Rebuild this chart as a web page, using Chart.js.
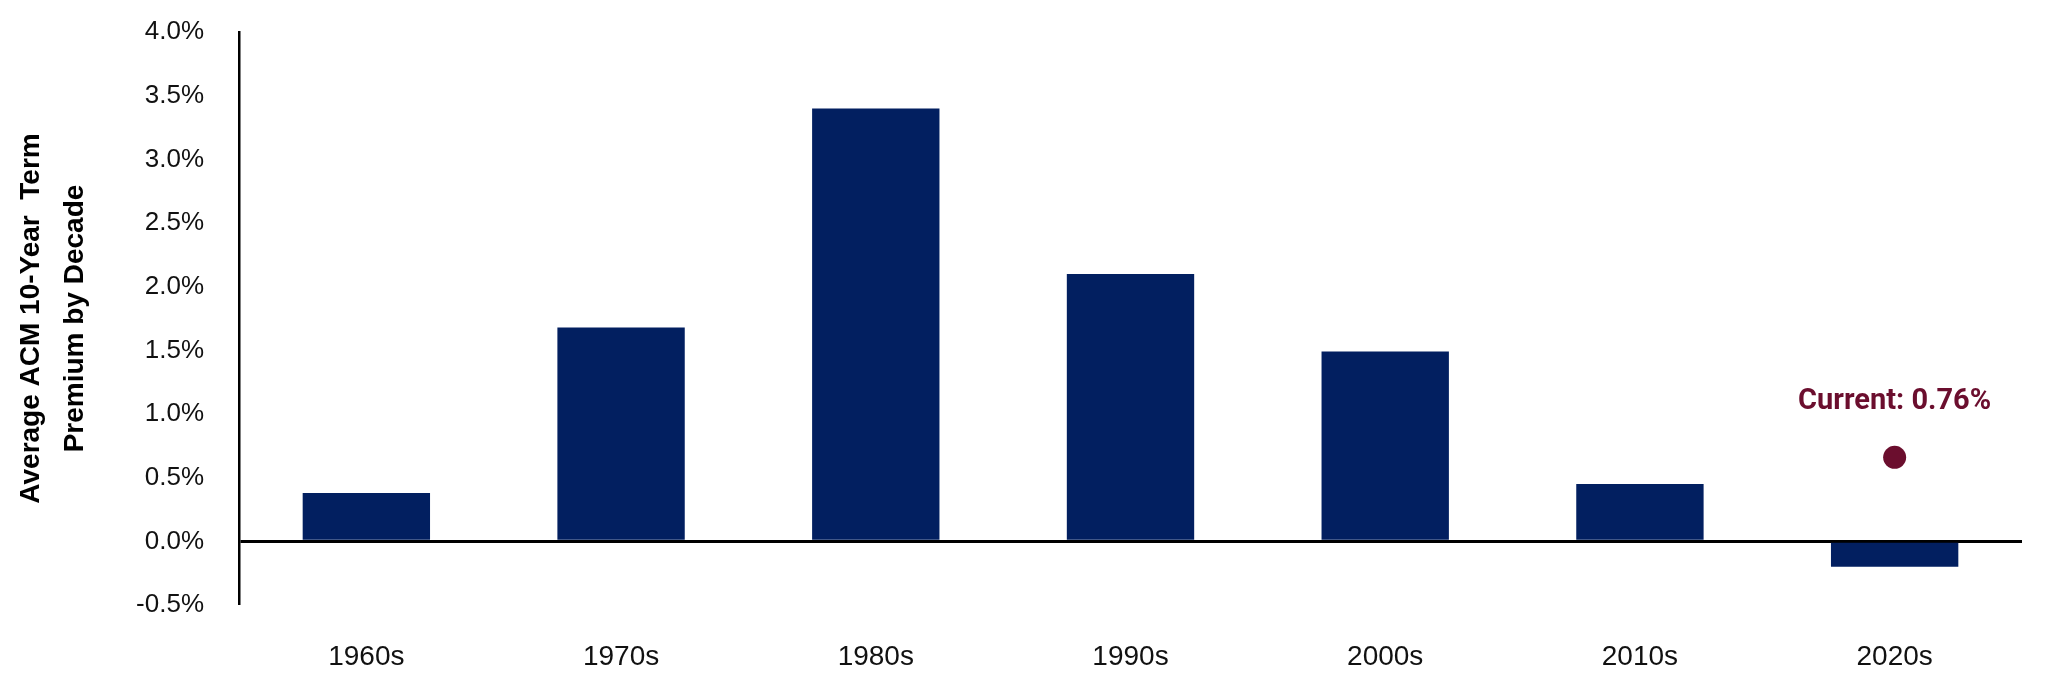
<!DOCTYPE html>
<html>
<head>
<meta charset="utf-8">
<script src="https://cdn.jsdelivr.net/npm/chart.js@4.4.1/dist/chart.umd.min.js"></script>
<style>
  html, body { margin: 0; padding: 0; background: #ffffff; }
  #wrap { width: 2048px; height: 682px; }
</style>
</head>
<body>
<div id="wrap"><canvas id="c" width="2048" height="682"></canvas></div>
<script>
// ---- data ----
const decades = ['1960s', '1970s', '1980s', '1990s', '2000s', '2010s', '2020s'];
const avgTermPremium = [0.38, 1.68, 3.40, 2.10, 1.49, 0.45, -0.20];
const currentValue = [null, null, null, null, null, null, 0.66];
const currentLabel = 'Current: 0.76%';
const yTitleLines = ['Average ACM 10-Year  Term', 'Premium by Decade'];
const yMin = -0.5, yMax = 4.0, yStep = 0.5;

const NAVY = '#021F60';
const MAROON = '#6B0E2E';
const SANS = "'Liberation Sans', Arial, sans-serif";

const currentLabelPlugin = {
  id: 'currentLabel',
  afterDatasetsDraw(chart) {
    const meta = chart.getDatasetMeta(1);
    const idx = currentValue.findIndex(v => v !== null);
    const pt = meta.data[idx];
    if (!pt) return;
    const ctx = chart.ctx;
    ctx.save();
    ctx.font = "bold 29px Roboto, 'Liberation Sans', sans-serif";
    ctx.fillStyle = MAROON;
    ctx.textAlign = 'center';
    ctx.textBaseline = 'middle';
    ctx.fillText(currentLabel, pt.x, pt.y - 56);
    ctx.restore();
  }
};

new Chart(document.getElementById('c'), {
  type: 'bar',
  data: {
    labels: decades,
    datasets: [
      {
        type: 'bar',
        data: avgTermPremium,
        backgroundColor: NAVY,
        borderWidth: 0,
        barPercentage: 0.5,
        categoryPercentage: 1.0,
        order: 2
      },
      {
        type: 'line',
        data: currentValue,
        showLine: false,
        pointRadius: 11.5,
        pointHoverRadius: 11.5,
        pointBackgroundColor: MAROON,
        pointBorderWidth: 0,
        order: 1
      }
    ]
  },
  plugins: [currentLabelPlugin],
  options: {
    responsive: false,
    animation: false,
    devicePixelRatio: 1,
    layout: { padding: { top: 32, right: 26, bottom: 0, left: 0 } },
    plugins: {
      legend: { display: false },
      tooltip: { enabled: false }
    },
    scales: {
      x: {
        afterFit(scale) { scale.height = 77; },
        grid: { display: false, drawTicks: false },
        border: { display: false },
        ticks: {
          color: '#111111',
          font: { family: SANS, size: 28 },
          padding: 35,
          maxRotation: 0
        }
      },
      y: {
        min: yMin,
        max: yMax,
        afterFit(scale) { scale.width = 239; },
        grid: {
          drawTicks: true,
          tickLength: 35,
          tickColor: 'rgba(0,0,0,0)',
          color: ctx => (ctx.tick && ctx.tick.value === 0) ? '#000000' : 'rgba(0,0,0,0)',
          lineWidth: ctx => (ctx.tick && ctx.tick.value === 0) ? 3 : 0
        },
        border: { display: true, color: '#000000', width: 2.5 },
        ticks: {
          stepSize: yStep,
          color: '#111111',
          font: { family: SANS, size: 26 },
          padding: 0,
          callback: v => v.toFixed(1) + '%'
        },
        title: {
          display: true,
          text: yTitleLines,
          color: '#000000',
          font: { family: SANS, size: 28, weight: 'bold', lineHeight: 1.57 },
          padding: { top: 9, bottom: 0 }
        }
      }
    }
  }
});
</script>
</body>
</html>
